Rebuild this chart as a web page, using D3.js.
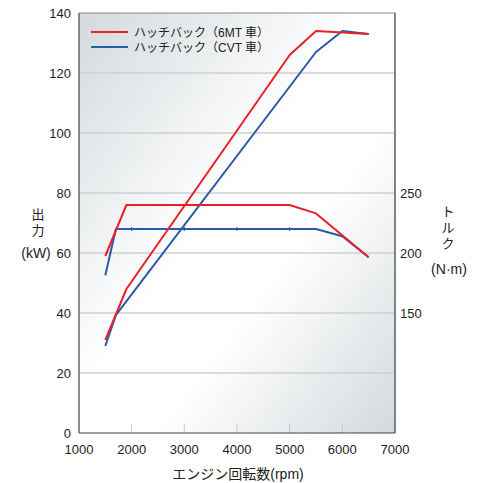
<!DOCTYPE html>
<html><head><meta charset="utf-8">
<script src="https://cdn.jsdelivr.net/npm/d3@7"></script>
<style>
body{margin:0;background:#fff;}
text{font-family:"Liberation Sans","Noto Sans CJK JP",sans-serif;fill:#222;}
</style></head>
<body>
<svg id="c" width="490" height="483"></svg>
<script>
const rpmTicks = [1000,2000,3000,4000,5000,6000,7000];
const powerTicks = [0,20,40,60,80,100,120,140];
const torqueTicks = [150,200,250];

const powerMT_rpm = [1500,1900,5000,5500,6500];
const powerMT_kw  = [31,48,126,134,133];
const powerCVT_rpm = [1500,1700,5500,6000,6500];
const powerCVT_kw  = [29,39.3,127,134,133];

const torqueMT_rpm = [1500,1900,5000,5500,6500];
const torqueMT_nm  = [197.5,240,240,233,196.5];
const torqueCVT_rpm = [1500,1700,2000,3000,4000,5000,5500,6000,6500];
const torqueCVT_nm  = [181.5,220,220,220,220,220,220,214,196.5];

const seriesNames = ["ハッチバック（6MT 車）","ハッチバック（CVT 車）"];
const colors = ["#e8202a","#2c5aa8"];

const svg = d3.select("#c");
const L=79,R=395,T=13,B=433;
const x = d3.scaleLinear().domain([1000,7000]).range([L,R]);
const yP = d3.scaleLinear().domain([0,140]).range([B,T]);
const yT = d3.scaleLinear().domain([200,250]).range([253,193]);

const defs = svg.append("defs");
const g = defs.append("linearGradient").attr("id","bg")
  .attr("x1","0").attr("y1","0").attr("x2","1").attr("y2","1");
g.append("stop").attr("offset","0").attr("stop-color","#d3d9dc");
g.append("stop").attr("offset","0.45").attr("stop-color","#ffffff");
g.append("stop").attr("offset","0.62").attr("stop-color","#ffffff");
g.append("stop").attr("offset","1").attr("stop-color","#d3d9dc");

svg.append("rect").attr("x",L).attr("y",T).attr("width",R-L).attr("height",B-T).attr("fill","url(#bg)");

// grid
svg.append("g").selectAll("line").data(powerTicks.slice(1,-1)).join("line")
  .attr("x1",L).attr("x2",R).attr("y1",d=>yP(d)).attr("y2",d=>yP(d))
  .attr("stroke","#cfcfcf").attr("stroke-width",1.5);
// x ticks inward
svg.append("g").selectAll("line").data(rpmTicks.slice(1,-1)).join("line")
  .attr("x1",d=>x(d)).attr("x2",d=>x(d)).attr("y1",B).attr("y2",B-9)
  .attr("stroke","#c8c8c8").attr("stroke-width",1);

// border
svg.append("line").attr("x1",L).attr("x2",R).attr("y1",T).attr("y2",T).attr("stroke","#888").attr("stroke-width",1);
svg.append("line").attr("x1",R).attr("x2",R).attr("y1",T).attr("y2",B).attr("stroke","#666").attr("stroke-width",1.6);
svg.append("line").attr("x1",L).attr("x2",L).attr("y1",T).attr("y2",B).attr("stroke","#444").attr("stroke-width",1.2);
svg.append("line").attr("x1",L).attr("x2",R).attr("y1",B).attr("y2",B).attr("stroke","#444").attr("stroke-width",1.2);

// labels
svg.append("g").selectAll("text").data(powerTicks).join("text")
  .attr("x",L-8).attr("y",d=>yP(d)+5).attr("text-anchor","end").attr("font-size",13).text(d=>d);
svg.append("g").selectAll("text").data(rpmTicks).join("text")
  .attr("x",d=>x(d)).attr("y",B+21).attr("text-anchor","middle").attr("font-size",13).text(d=>d);
svg.append("g").selectAll("text").data(torqueTicks).join("text")
  .attr("x",R+5).attr("y",d=>yT(d)+5).attr("text-anchor","start").attr("font-size",13).text(d=>d);

svg.append("text").attr("x",238).attr("y",479).attr("text-anchor","middle").attr("font-size",14).text("エンジン回転数(rpm)");
const vt = (chars, cx, y0, step) => chars.forEach((c,i)=>
  svg.append("text").attr("x",cx).attr("y",y0+i*step).attr("text-anchor","middle").attr("font-size",13).text(c));
vt(["出","力"],38,219,16);
svg.append("text").attr("x",36).attr("y",258).attr("text-anchor","middle").attr("font-size",14).text("(kW)");
vt(["ト","ル","ク"],448,216,16);
svg.append("text").attr("x",449).attr("y",274).attr("text-anchor","middle").attr("font-size",14).text("(N·m)");

const line = d3.line();
function draw(rpms, vals, ys, col){
  svg.append("path").attr("d",line(rpms.map((r,i)=>[x(r),ys(vals[i])])))
    .attr("fill","none").attr("stroke",col).attr("stroke-width",2).attr("stroke-linejoin","round");
}
draw(torqueCVT_rpm,torqueCVT_nm,yT,colors[1]);
draw(powerCVT_rpm,powerCVT_kw,yP,colors[1]);
draw(torqueMT_rpm,torqueMT_nm,yT,colors[0]);
draw(powerMT_rpm,powerMT_kw,yP,colors[0]);
// small markers on CVT torque
svg.append("g").selectAll("line").data(torqueCVT_rpm.slice(2,6)).join("line")
  .attr("x1",d=>x(d)).attr("x2",d=>x(d))
  .attr("y1",(d,i)=>yT(torqueCVT_nm[i+2])-2).attr("y2",(d,i)=>yT(torqueCVT_nm[i+2])+2)
  .attr("stroke",colors[1]).attr("stroke-width",1);

// legend
const lg = svg.append("g");
seriesNames.forEach((n,i)=>{
  const yy = 32+i*15;
  lg.append("line").attr("x1",91).attr("x2",128).attr("y1",yy).attr("y2",yy).attr("stroke",colors[i]).attr("stroke-width",2);
  lg.append("text").attr("x",134).attr("y",yy+4.5).attr("font-size",12).text(n);
});
</script>
</body></html>
